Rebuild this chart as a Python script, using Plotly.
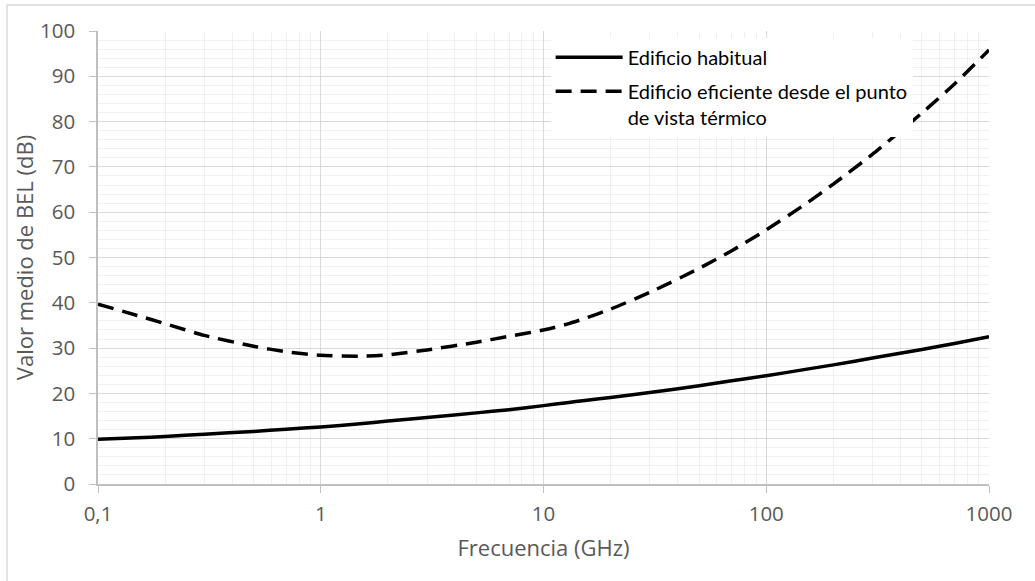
import plotly.graph_objects as go

# Frequency (GHz)
freq = [0.1, 0.15, 0.2, 0.3, 0.5, 0.7, 1, 1.5, 2, 3, 5, 7, 10, 13, 15, 20,
        30, 50, 70, 100, 150, 200, 300, 500, 700, 1000]
# Edificio habitual (dB)
habitual = [9.9, 10.2, 10.5, 11.0, 11.6, 12.1, 12.6, 13.3, 13.9, 14.7, 15.7,
            16.4, 17.3, 18.0, 18.4, 19.1, 20.2, 21.7, 22.8, 23.9, 25.3, 26.3,
            27.8, 29.7, 31.0, 32.5]
# Edificio eficiente desde el punto de vista térmico (dB)
eficiente = [39.7, 37.2, 35.4, 32.8, 30.4, 29.2, 28.4, 28.2, 28.5, 29.6, 31.3,
             32.6, 34.0, 35.4, 36.4, 38.6, 42.3, 47.6, 51.5, 56.1, 61.8, 66.2,
             72.8, 81.9, 88.3, 95.8]

x_ticks = [0.1, 1, 10, 100, 1000]
x_ticktext = ["0,1", "1", "10", "100", "1000"]
x_minor = [m * d for d in [0.1, 1, 10, 100] for m in range(2, 10)]

name1 = "Edificio habitual"
name2 = "Edificio eficiente desde el punto<br>de vista térmico"

fig = go.Figure()
fig.add_trace(go.Scatter(x=freq, y=habitual, mode="lines", name=name1,
                         legendgroup="g1",
                         line=dict(color="black", width=3.5, shape="spline",
                                   smoothing=0.6)))
fig.add_trace(go.Scatter(x=freq, y=eficiente, mode="lines", name=name2,
                         legendgroup="g2",
                         line=dict(color="black", width=3.5, dash="16px,9px",
                                   shape="spline", smoothing=0.6)))

axis_font = dict(family="Open Sans", size=20.5, color="#595959")
title_font = dict(family="Open Sans", size=22, color="#595959")

fig.update_layout(
    width=1035, height=581,
    margin=dict(l=98, r=46, t=31, b=97),
    paper_bgcolor="white", plot_bgcolor="white",
    font=dict(family="Open Sans", color="#595959"),
    showlegend=True,
    legend=dict(x=0.508, y=0.985, xanchor="left", yanchor="top",
                bgcolor="white", borderwidth=0, valign="top",
                itemwidth=67, tracegroupgap=5,
                font=dict(family="Lato", size=20, color="black")),
    xaxis=dict(
        type="log", range=[-1, 3],
        tickmode="array", tickvals=x_ticks, ticktext=x_ticktext,
        tickfont=axis_font, ticklabelstandoff=4,
        showgrid=True, gridcolor="#d9d9d9", gridwidth=1.3,
        showline=True, linecolor="#bfbfbf", linewidth=1.5,
        ticks="outside", ticklen=7, tickcolor="#bfbfbf", tickwidth=1.3,
        minor=dict(tickmode="array", tickvals=x_minor, showgrid=True,
                   gridcolor="#f0f0f0", gridwidth=1.3, ticks=""),
        title=dict(text="Frecuencia (GHz)", font=title_font, standoff=14),
        zeroline=False,
    ),
    yaxis=dict(
        range=[0, 100], tickmode="linear", tick0=0, dtick=10,
        tickfont=axis_font, ticklabelstandoff=10,
        showgrid=True, gridcolor="#d9d9d9", gridwidth=1.3,
        showline=True, linecolor="#bfbfbf", linewidth=1.5,
        ticks="outside", ticklen=7, tickcolor="#bfbfbf", tickwidth=1.3,
        minor=dict(dtick=2, showgrid=True, gridcolor="#f0f0f0", gridwidth=1.3,
                   ticks=""),
        title=dict(text="Valor medio de BEL (dB)", font=title_font, standoff=0),
        zeroline=False,
    ),
    shapes=[dict(type="rect", xref="paper", yref="paper",
                 x0=(7 - 98) / 891, x1=(1045 - 98) / 891,
                 y0=(484 - 590) / 453, y1=(484 - 5) / 453,
                 line=dict(color="#d9d9d9", width=1.5), fillcolor="rgba(0,0,0,0)",
                 layer="below")],
)

fig.write_html("out.html")
